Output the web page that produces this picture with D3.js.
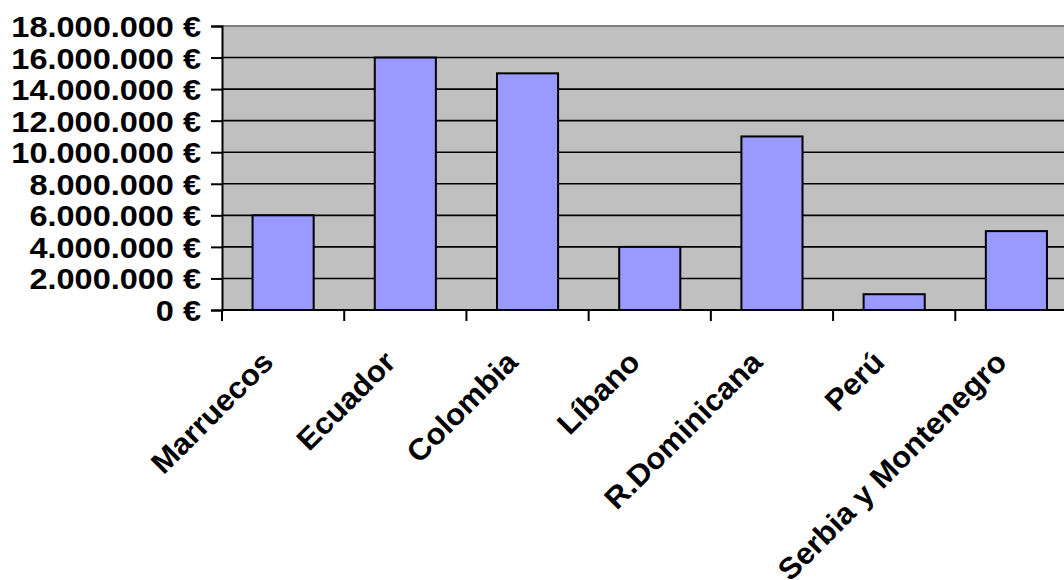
<!DOCTYPE html>
<html>
<head>
<meta charset="utf-8">
<script src="https://cdn.jsdelivr.net/npm/d3@7"></script>
<style>
  html, body { margin: 0; padding: 0; background: #fff; }
  svg { display: block; }
  text { font-family: "Liberation Sans", Arial, sans-serif; font-weight: bold; fill: #000; }
</style>
</head>
<body>
<svg id="chart" width="1064" height="580"></svg>
<script>
const categories = ["Marruecos", "Ecuador", "Colombia", "Líbano", "R.Dominicana", "Perú", "Serbia y Montenegro"];
const values = [6000000, 16000000, 15000000, 4000000, 11000000, 1000000, 5000000];
const yTickValues = [0, 2000000, 4000000, 6000000, 8000000, 10000000, 12000000, 14000000, 16000000, 18000000];

const svg = d3.select("#chart");
const plotLeft = 222, plotRight = 1077.5, plotTop = 26, plotBottom = 310;

const locale = d3.formatLocale({ decimal: ",", thousands: ".", grouping: [3], currency: ["", " €"] });
const fmt = locale.format("$,.0f");

const x = d3.scaleBand().domain(categories).range([plotLeft, plotRight]).padding(0);
const y = d3.scaleLinear().domain([0, 18000000]).range([plotBottom, plotTop]);

// plot background
svg.append("rect").attr("x", plotLeft).attr("y", plotTop)
  .attr("width", plotRight - plotLeft).attr("height", plotBottom - plotTop).attr("fill", "#C0C0C0");

// gridlines
svg.append("g").selectAll("line").data(yTickValues.filter(v => v > 0 && v < 18000000)).join("line")
  .attr("x1", plotLeft).attr("x2", plotRight).attr("y1", d => y(d)).attr("y2", d => y(d))
  .attr("stroke", "#000").attr("stroke-width", 1.6);
// top border
svg.append("line").attr("x1", plotLeft).attr("x2", plotRight).attr("y1", y(18000000)).attr("y2", y(18000000))
  .attr("stroke", "#808080").attr("stroke-width", 2);

// bars
const bw = x.bandwidth();
svg.append("g").selectAll("rect").data(categories).join("rect")
  .attr("x", d => x(d) + bw * 0.25)
  .attr("width", bw * 0.5)
  .attr("y", (d, i) => y(values[i]))
  .attr("height", (d, i) => y(0) - y(values[i]))
  .attr("fill", "#9999FF").attr("stroke", "#000").attr("stroke-width", 2);

// y axis
const yAxis = svg.append("g").attr("transform", `translate(${plotLeft},0)`)
  .call(d3.axisLeft(y).tickValues(yTickValues).tickFormat(fmt).tickSize(11).tickPadding(10));
yAxis.select(".domain").attr("stroke", "#000").attr("stroke-width", 2);
yAxis.selectAll(".tick line").attr("stroke", "#000").attr("stroke-width", 2);
yAxis.selectAll(".tick text")
  .attr("font-size", 29).attr("dy", "0.36em")
  .attr("font-family", "Liberation Sans, Arial, sans-serif").attr("font-weight", "bold")
  .each(function() {
    const w = this.getComputedTextLength();
    d3.select(this).attr("textLength", w * 1.12).attr("lengthAdjust", "spacingAndGlyphs");
  });

// x axis line and ticks at band boundaries
const xg = svg.append("g");
xg.append("line").attr("x1", plotLeft).attr("x2", plotRight).attr("y1", plotBottom).attr("y2", plotBottom)
  .attr("stroke", "#000").attr("stroke-width", 2);
const boundaries = categories.map(c => x(c)).concat([x(categories[categories.length - 1]) + bw]);
xg.selectAll("line.tk").data(boundaries).join("line").attr("class", "tk")
  .attr("x1", d => d).attr("x2", d => d).attr("y1", plotBottom).attr("y2", plotBottom + 11)
  .attr("stroke", "#000").attr("stroke-width", 2);

// x labels
xg.selectAll("text").data(categories).join("text")
  .attr("transform", d => `translate(${x(d) + bw / 2 - 8},${plotBottom + 54}) rotate(-45)`)
  .attr("text-anchor", "end")
  .attr("font-size", 30)
  .text(d => d)
  .each(function() {
    const w = this.getComputedTextLength();
    d3.select(this).attr("textLength", w * 1.04).attr("lengthAdjust", "spacingAndGlyphs");
  });
</script>
</body>
</html>
